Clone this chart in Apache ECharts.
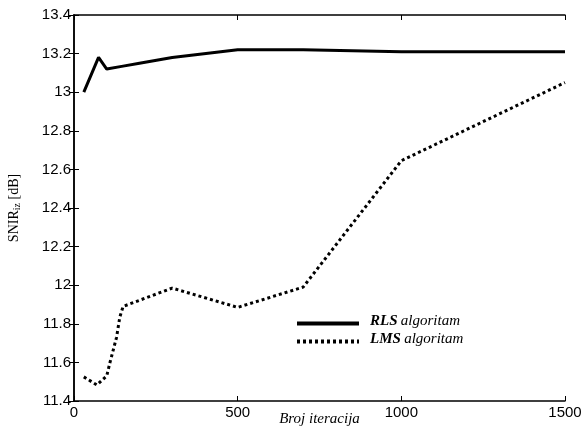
<!DOCTYPE html>
<html><head><meta charset="utf-8">
<script src="https://cdn.jsdelivr.net/npm/echarts@6/dist/echarts.min.js"></script>
<style>html,body{margin:0;padding:0;background:#fff}#c{width:587px;height:436px}</style>
</head><body><div id="c"></div>
<script>
const rlsX = [30, 75, 100, 150, 200, 300, 500, 700, 1000, 1500];
const rlsY = [13.0, 13.18, 13.12, 13.135, 13.15, 13.18, 13.22, 13.22, 13.21, 13.21];
const lmsX = [30, 70, 100, 110, 130, 140, 150, 300, 500, 700, 1000, 1500];
const lmsY = [11.525, 11.483, 11.53, 11.6, 11.73, 11.835, 11.89, 11.985, 11.885, 11.99, 12.645, 13.05];
const seriesNames = ['RLS', 'LMS'];
const xTicks = {min: 0, max: 1500, interval: 500};
const yTicks = {min: 11.4, max: 13.4, interval: 0.2};

const pair = (xs, ys) => xs.map((x, i) => [x, ys[i]]);
const chart = echarts.init(document.getElementById('c'));
const tickFont = {fontFamily: 'Liberation Sans, Arial', fontSize: 15, color: '#000'};
const axLine = {show: true, lineStyle: {color: '#000', width: 1.5}};
const axTick = {show: true, inside: true, length: 5, lineStyle: {color: '#000', width: 1}};
chart.setOption({
  animation: false,
  backgroundColor: '#fff',
  grid: {left: 74, right: 22, top: 15, bottom: 35, containLabel: false, outerBoundsMode: 'none'},
  legend: {
    orient: 'vertical', left: 290, top: 309, itemWidth: 62, itemHeight: 12, itemGap: 3,
    data: seriesNames,
    itemStyle: {opacity: 0},
    lineStyle: {width: 4},
    formatter: n => '{b|' + n + '} {i|algoritam}',
    textStyle: {
      padding: [0, 0, 4, 6],
      rich: {
        b: {fontFamily: 'Liberation Serif, Times New Roman', fontSize: 15, fontWeight: 'bold', fontStyle: 'italic', color: '#000'},
        i: {fontFamily: 'Liberation Serif, Times New Roman', fontSize: 15, fontStyle: 'italic', color: '#000'}
      }
    }
  },
  xAxis: [{
    type: 'value', ...xTicks, position: 'bottom',
    name: 'Broj iteracija', nameLocation: 'middle', nameGap: 11, nameMoveOverlap: false,
    nameTextStyle: {fontFamily: 'Liberation Serif, Times New Roman', fontStyle: 'italic', fontSize: 15, color: '#000'},
    axisLine: axLine, axisTick: axTick, splitLine: {show: false},
    axisLabel: {...tickFont, margin: 4, formatter: v => String(v)}
  }, {
    type: 'value', ...xTicks, position: 'top',
    axisLine: axLine, axisTick: axTick, splitLine: {show: false}, axisLabel: {show: false}
  }],
  yAxis: [{
    type: 'value', ...yTicks, position: 'left',
    name: 'SNIR{s|iz} [dB]', nameLocation: 'middle', nameGap: 52, nameRotate: 90, nameMoveOverlap: false,
    nameTextStyle: {fontFamily: 'Liberation Serif, Times New Roman', fontSize: 14, color: '#000',
      rich: {s: {fontFamily: 'Liberation Serif, Times New Roman', fontSize: 10, color: '#000', padding: [6, 0, 0, 0]}}},
    axisLine: axLine, axisTick: axTick, splitLine: {show: false},
    axisLabel: {...tickFont, margin: 3}
  }, {
    type: 'value', ...yTicks, position: 'right',
    axisLine: axLine, axisTick: axTick, splitLine: {show: false}, axisLabel: {show: false}
  }],
  series: [{
    name: seriesNames[0], type: 'line', data: pair(rlsX, rlsY), symbol: 'none',
    lineStyle: {color: '#000', width: 3, type: 'solid'}, itemStyle: {color: '#000'}
  }, {
    name: seriesNames[1], type: 'line', data: pair(lmsX, lmsY), symbol: 'none',
    lineStyle: {color: '#000', width: 3, type: [3, 3], cap: 'butt'}, itemStyle: {color: '#000'}
  }]
});
</script></body></html>
